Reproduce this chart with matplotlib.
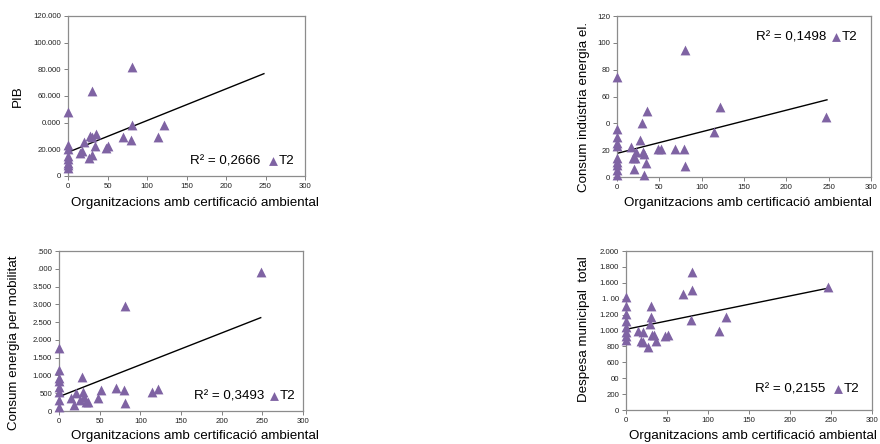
import numpy as np
import matplotlib
matplotlib.use("Agg")
from matplotlib import pyplot as plt

plt.rcParams['font.family'] = ['Liberation Sans', 'DejaVu Sans']

XLABEL = "Organitzacions amb certificació ambiental"
PURPLE = "#7f63a3"

# --- PIB ---
pib_x = [0, 0, 0, 0, 0, 0, 0, 0, 15, 18, 20.6, 27.8, 31, 26.6, 31, 34, 36, 30,
         47.5, 51, 69, 79.6, 80.5, 80.5, 114, 122]
pib_y = [48000, 23000, 15000, 12500, 10000, 8000, 6000, 20000, 17000, 18500, 25700,
         30000, 64000, 13500, 16000, 22500, 31500, 29000, 21000, 22500, 29500, 27000,
         82000, 38000, 29500, 38000]
pib_ticks = [0, 20000, 40000, 60000, 80000, 100000, 120000]
pib_ticklabels = ["0", "20.000", "0.000", "60.000", "80.000", "100.000", "120.000"]
pib_trend = (17800, 237.7)   # intercept, slope
pib_r2 = "R² = 0,2666"

# --- Consum indústria energia el. ---
ind_x = [0, 0, 0, 0, 0, 0, 0, 0, 0, 0, 16, 19, 21.5, 20, 22, 27, 29, 30.6, 31.5,
         31.5, 34, 36, 48, 52, 68.7, 79.7, 80.5, 80.5, 114, 122, 246.5]
ind_y = [74.7, 36, 30, 25, 23, 14, 11, 9, 5, 1.5, 22.6, 14, 14, 6, 19, 27.5, 40.5,
         19, 17, 1.5, 10.5, 49.4, 20.6, 20.6, 21, 21, 95, 8, 33.8, 52.4, 45]
ind_ticks = [0, 20, 40, 60, 80, 100, 120]
ind_ticklabels = ["0", "20", "0", "60", "80", "100", "120"]
ind_trend = (17.6, 0.161)
ind_r2 = "R² = 0,1498"

# --- Consum energia per mobilitat ---
mob_x = [0, 0, 0, 0, 0, 0, 0, 0, 14.8, 18, 21, 28, 29.5, 31, 33, 36, 26, 47.4,
         51.5, 69.5, 79.8, 81, 81, 114, 122, 248.5]
mob_y = [1763, 1153, 920, 850, 684, 543, 310, 121, 357, 169, 497, 965, 543, 402,
         262, 262, 310, 357, 590, 638, 590, 2953, 234, 543, 610, 3918]
mob_ticks = [0, 500, 1000, 1500, 2000, 2500, 3000, 3500, 4000, 4500]
mob_ticklabels = ["0", "500", "1.000", "1.500", "2.000", "2.500", "3.000",
                  "3.500", ".000", ".500"]
mob_trend = (403, 8.96)
mob_r2 = "R² = 0,3493"

# --- Despesa municipal total ---
desp_x = [0, 0, 0, 0, 0, 0, 0, 0, 14.6, 20.7, 18.7, 20.7, 26.8, 28.8, 30.9, 30,
          32, 34, 36, 47, 51, 69.5, 79.7, 80.5, 80.5, 114, 121.6, 246]
desp_y = [1418, 1308, 1203, 1119, 1048, 985, 930, 880, 994, 977, 868, 860, 796,
          1082, 1308, 1174, 943, 943, 868, 930, 943, 1459, 1132, 1740, 1509, 994,
          1166, 1543]
desp_ticks = [0, 200, 400, 600, 800, 1000, 1200, 1400, 1600, 1800, 2000]
desp_ticklabels = ["0", "200", "00", "600", "800", "1.000", "1.200", "1. 00",
                   "1.600", "1.800", "2.000"]
desp_trend = (1015, 2.1)
desp_r2 = "R² = 0,2155"

W, H = 880, 444
fig = plt.figure(figsize=(W / 100, H / 100), dpi=100)
FS = 9.6


def px_axes(x0, y0, x1, y1):
    return fig.add_axes([x0 / W, (H - y1) / H, (x1 - x0) / W, (y1 - y0) / H])


def draw(box, xs, ys, ticks, ticklabels, trend, r2, ylabel, xlab_px, ylab_px,
         r2_px, leg_px):
    x0, y0, x1, y1 = box
    ax = px_axes(x0, y0, x1, y1)
    ax.scatter(xs, ys, marker="^", s=50, color=PURPLE, linewidths=0, zorder=3,
               clip_on=False, label="T2")
    tx = np.array([0, 248])
    ax.plot(tx, trend[0] + trend[1] * tx, color="black", lw=1.0, zorder=2)
    ax.set_xlim(0, 300)
    ax.set_ylim(ticks[0], ticks[-1])
    ax.set_xticks(np.arange(0, 301, 50))
    ax.set_yticks(ticks)
    ax.set_yticklabels(ticklabels)
    ax.tick_params(labelsize=5.6, length=3, width=0.7, color="#808080",
                   labelcolor="#222222", pad=2)
    for s in ax.spines.values():
        s.set_color("#8c8c8c")
        s.set_linewidth(0.9)
    ax.set_xlabel(XLABEL, fontsize=FS)
    ax.set_ylabel(ylabel, fontsize=FS)
    w, h = x1 - x0, y1 - y0
    ax.xaxis.set_label_coords((xlab_px[0] - x0) / w, (y1 - xlab_px[1]) / h)
    ax.xaxis.label.set_va("center")
    ax.yaxis.set_label_coords((ylab_px[0] - x0) / w, (y1 - ylab_px[1]) / h)
    ax.yaxis.label.set_va("center")
    ax.text((r2_px[0] - x0) / w, (y1 - r2_px[1]) / h, r2, transform=ax.transAxes,
            fontsize=FS, ha="left", va="center")
    ax.legend(loc="center left",
              bbox_to_anchor=((leg_px[0] - x0) / w, (y1 - leg_px[1]) / h),
              frameon=False, fontsize=FS, handlelength=0.6, handletextpad=0.15,
              borderpad=0, borderaxespad=0, markerscale=0.9)
    return ax


draw((68, 16, 305, 176), pib_x, pib_y, pib_ticks, pib_ticklabels, pib_trend,
     pib_r2, "PIB", (195, 203), (18, 96), (190, 161), (269, 161))
draw((617, 16, 871, 177), ind_x, ind_y, ind_ticks, ind_ticklabels, ind_trend,
     ind_r2, "Consum indústria energia el.", (748, 203), (584, 107), (756, 37),
     (832, 37))
draw((59, 251, 303, 411), mob_x, mob_y, mob_ticks, mob_ticklabels, mob_trend,
     mob_r2, "Consum energia per mobilitat", (195, 436), (14, 343), (194, 396),
     (270, 396))
draw((626, 251, 872, 410), desp_x, desp_y, desp_ticks, desp_ticklabels,
     desp_trend, desp_r2, "Despesa municipal  total", (753, 436), (584, 329),
     (755, 389), (834, 389))

fig.savefig("out.png", dpi=100)
